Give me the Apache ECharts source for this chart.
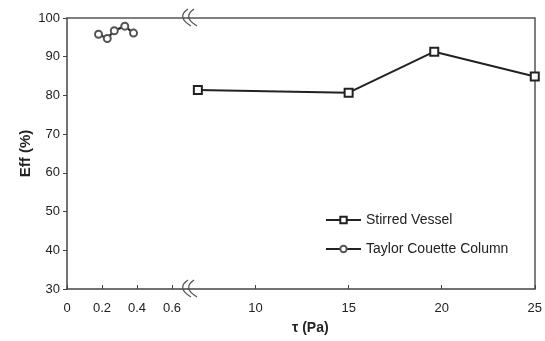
<!DOCTYPE html>
<html>
<head>
    <meta charset="utf-8">
    <title>Eff vs tau</title>
    <script src="https://cdn.jsdelivr.net/npm/echarts@6/dist/echarts.min.js"></script>
</head>
<body style="margin:0;">
    <div id="main" style="width:545px;height:341px;"></div>
    <script type="text/javascript">
        // data
        var tcTau = [0.18, 0.23, 0.27, 0.33, 0.38];
        var tcEff = [95.8, 94.7, 96.7, 97.9, 96.1];
        var svTau = [6.9, 15, 19.6, 25];
        var svEff = [81.4, 80.7, 91.3, 84.9];
        var leftTicks = [0, 0.2, 0.4, 0.6];
        var rightTicks = [10, 15, 20, 25];

        var ink = '#222';
        var font = 'Liberation Sans';

        function pairs(xs, ys) {
            var out = [];
            for (var i = 0; i < xs.length; i++) out.push([xs[i], ys[i]]);
            return out;
        }

        // break mark: two slanted curved strokes
        function breakMark(x, y) {
            var s = [];
            for (var k = 0; k < 2; k++) {
                var dx = x + k * 6;
                s.push({
                    type: 'bezierCurve',
                    shape: { x1: dx + 4, y1: y - 9, cpx1: dx - 8, cpy1: y - 1, x2: dx + 7, y2: y + 8 },
                    style: { stroke: '#555', lineWidth: 1.3, fill: null },
                    z: 100
                });
            }
            return s;
        }

        var myChart = echarts.init(document.getElementById('main'));

        var option = {
            animation: false,
            textStyle: { fontFamily: font },
            grid: [
                { left: 67, top: 18, width: 121, bottom: 52 },
                { left: 188, top: 18, right: 8, bottom: 52 }
            ],
            xAxis: [
                {
                    gridIndex: 0, type: 'value', min: 0, max: 0.691, interval: 0.2,
                    axisLine: { onZero: false, lineStyle: { color: '#444', width: 1.5 } },
                    axisTick: { show: true, inside: true, length: 4, customValues: leftTicks, lineStyle: { color: '#444' } },
                    axisLabel: { customValues: leftTicks, color: '#222', fontSize: 13, margin: 13 },
                    splitLine: { show: false }
                },
                {
                    gridIndex: 1, type: 'value', min: 6.37, max: 25,
                    axisLine: { onZero: false, lineStyle: { color: '#444', width: 1.5 } },
                    axisTick: { show: true, inside: true, length: 4, customValues: rightTicks, lineStyle: { color: '#444' } },
                    axisLabel: { customValues: rightTicks, color: '#222', fontSize: 13, margin: 13 },
                    splitLine: { show: false }
                },
                // top border lines
                {
                    gridIndex: 0, type: 'value', position: 'top', min: 0, max: 1,
                    axisLine: { onZero: false, lineStyle: { color: '#555', width: 1.5 } },
                    axisTick: { show: false }, axisLabel: { show: false }, splitLine: { show: false }
                },
                {
                    gridIndex: 1, type: 'value', position: 'top', min: 0, max: 1,
                    axisLine: { onZero: false, lineStyle: { color: '#555', width: 1.5 } },
                    axisTick: { show: false }, axisLabel: { show: false }, splitLine: { show: false }
                }
            ],
            yAxis: [
                {
                    gridIndex: 0, type: 'value', min: 30, max: 100, interval: 10,
                    name: 'Eff (%)', nameLocation: 'middle', nameGap: 34, nameRotate: 90,
                    nameTextStyle: { fontWeight: 'bold', fontSize: 15, color: '#222' },
                    axisLine: { show: true, onZero: false, lineStyle: { color: '#444', width: 1.5 } },
                    axisTick: { show: true, length: 4, lineStyle: { color: '#444' } },
                    axisLabel: { color: '#222', fontSize: 13, margin: 7 },
                    splitLine: { show: false }
                },
                {
                    gridIndex: 1, type: 'value', min: 30, max: 100, interval: 10,
                    position: 'right',
                    axisLine: { show: true, onZero: false, lineStyle: { color: '#555', width: 1.5 } },
                    axisTick: { show: false }, axisLabel: { show: false },
                    splitLine: { show: false }
                }
            ],
            legend: {
                orient: 'vertical', left: 320, top: 208, itemGap: 15,
                itemWidth: 35, itemHeight: 8,
                textStyle: { color: '#222', fontSize: 14, fontFamily: font },
                data: ['Stirred Vessel', 'Taylor Couette Column']
            },
            series: [
                {
                    name: 'Stirred Vessel', type: 'line', xAxisIndex: 1, yAxisIndex: 1,
                    data: pairs(svTau, svEff),
                    symbol: 'emptyRect', symbolSize: 8,
                    lineStyle: { color: ink, width: 2 },
                    itemStyle: { color: ink, borderColor: ink, borderWidth: 1.5 }
                },
                {
                    name: 'Taylor Couette Column', type: 'line', xAxisIndex: 0, yAxisIndex: 0,
                    data: pairs(tcTau, tcEff),
                    symbol: 'emptyCircle', symbolSize: 7,
                    lineStyle: { color: ink, width: 2.2 },
                    itemStyle: { color: '#555', borderColor: '#555', borderWidth: 1.2 }
                }
            ],
            graphic: [
                {
                    type: 'text', left: 292, top: 321,
                    style: { text: 'τ (Pa)', font: 'bold 14px ' + font, fill: '#222' }
                }
            ].concat(breakMark(184, 18)).concat(breakMark(184, 289))
        };

        myChart.setOption(option);
    </script>
</body>
</html>
